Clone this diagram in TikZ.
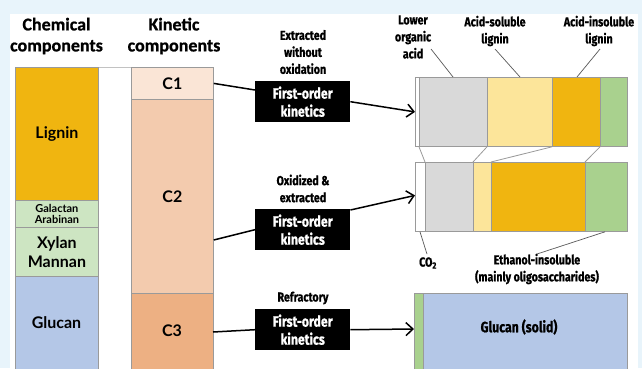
\documentclass[tikz,border=0pt]{standalone}
\usepackage{fontspec}
\setmainfont{Lato}
\newfontfamily\hdfont{Carlito}[BoldFeatures={FakeBold=0.8}]
\newfontfamily\cdfont{Fira Sans}[FakeStretch=0.82,BoldFeatures={FakeBold=0.8}]
\usetikzlibrary{arrows.meta,calc}
\definecolor{bgblue}{HTML}{E8F4FB}
\definecolor{lig}{HTML}{F0B510}
\definecolor{lgreen}{HTML}{CDE5C2}
\definecolor{glu}{HTML}{B4C7E7}
\definecolor{cone}{HTML}{FAE5D6}
\definecolor{ctwo}{HTML}{F3CBAE}
\definecolor{cthree}{HTML}{EDB083}
\definecolor{sgray}{HTML}{D9D9D9}
\definecolor{syel}{HTML}{FCE59A}
\definecolor{sgreen}{HTML}{A9D18E}
\definecolor{edge}{HTML}{9A9A9A}
\tikzset{
  blk/.style={draw=edge,line width=0.8pt,inner sep=0pt,anchor=north west,font=\bfseries},
  seg/.style={draw=edge,line width=0.8pt,inner sep=0pt,anchor=north west,minimum height=69pt},
  hdr/.style={font=\hdfont\bfseries\fontsize{18}{21}\selectfont,align=center},
  lbl/.style={font=\cdfont\bfseries\fontsize{13}{17}\selectfont,align=center,inner sep=0pt},
  kin/.style={fill=black,text=white,font=\cdfont\bfseries\fontsize{15}{18}\selectfont,align=center,minimum width=95pt,minimum height=41pt,inner sep=0pt,anchor=north west},
  conn/.style={line width=1.5pt},
  arr/.style={line width=1.5pt,-{Straight Barb[length=7pt,width=13pt,line width=1.5pt]}},
  lead/.style={draw=black!65,line width=0.7pt},
  link/.style={draw=edge,line width=0.8pt}
}
\begin{document}
\begin{tikzpicture}[x=1pt,y=-1pt]
\useasboundingbox (0,0) rectangle (642,368);
\fill[bgblue] (0,0) rectangle (642,368);
\fill[white] (10,14) rectangle (638,372);
% headers
\node[hdr] (h1) at (56.5,36) {Chemical\\components};
\node[hdr] (h2) at (174,36) {Kinetic\\components};
% chemical column
\node[blk,fill=lig,minimum width=83pt,minimum height=133pt,font=\bfseries\fontsize{16}{19}\selectfont] (lignin) at (15,67) {Lignin};
\node[blk,fill=lgreen,minimum width=83pt,minimum height=27pt,font=\bfseries\fontsize{11}{11.5}\selectfont,align=center] (gal) at (15,200) {Galactan\\Arabinan};
\node[blk,fill=lgreen,minimum width=83pt,minimum height=49pt,font=\bfseries\fontsize{16}{19}\selectfont,align=center] (xyl) at (15,227) {Xylan\\Mannan};
\node[blk,fill=glu,minimum width=83pt,minimum height=96pt,font=\bfseries\fontsize{16}{19}\selectfont] (glu) at (15,276) {};
\node[font=\bfseries\fontsize{16}{19}\selectfont] (glut) at (56.5,323) {Glucan};
% kinetic column
\node[blk,fill=cone,minimum width=82pt,minimum height=32pt,font=\bfseries\fontsize{16}{19}\selectfont] (c1) at (131,67) {C1};
\node[blk,fill=ctwo,minimum width=82pt,minimum height=194pt,font=\bfseries\fontsize{16}{19}\selectfont] (c2) at (131,99) {C2};
\node[blk,fill=cthree,minimum width=82pt,minimum height=79pt] (c3) at (131,293) {};
\node[font=\bfseries\fontsize{16}{19}\selectfont] (c3t) at (172,331) {C3};
\draw[draw=edge!60,line width=0.8pt] (lignin.north east) -- (c1.north west);
% kinetics boxes
\node[kin] (k1) at (255,81) {First-order\\kinetics};
\node[kin] (k2) at (255,209) {First-order\\kinetics};
\node[kin] (k3) at (255,309) {First-order\\kinetics};
\node[lbl] (l1) at (303,52) {Extracted\\without\\oxidation};
\node[lbl] (l2) at (303,188.5) {Oxidized \&\\extracted};
\node[lbl] (l3) at (303,298) {Refractory};
% bar 1
\node[seg,fill=white,minimum width=4pt] (b1a) at (415,77) {};
\node[seg,fill=sgray,minimum width=68pt] (b1b) at (419,77) {};
\node[seg,fill=syel,minimum width=65pt] (b1c) at (487,77) {};
\node[seg,fill=lig,minimum width=48pt] (b1d) at (552,77) {};
\node[seg,fill=sgreen,minimum width=27pt] (b1e) at (600,77) {};
% bar 2
\node[seg,fill=white,minimum width=10pt] (b2a) at (415,162) {};
\node[seg,fill=sgray,minimum width=48pt] (b2b) at (425,162) {};
\node[seg,fill=syel,minimum width=18pt] (b2c) at (473,162) {};
\node[seg,fill=lig,minimum width=94pt] (b2d) at (491,162) {};
\node[seg,fill=sgreen,minimum width=42pt] (b2e) at (585,162) {};
% bar 3
\node[seg,fill=sgreen,minimum width=9pt,minimum height=79pt] (b3a) at (414,293) {};
\node[seg,fill=glu,minimum width=204pt,minimum height=79pt] (b3b) at (423,293) {};
\node[font=\cdfont\bfseries\fontsize{15}{18}\selectfont] (b3t) at (519,327) {Glucan (solid)};
% links between bars
\draw[link] (b1b.south west) -- (b2b.north west);
\draw[link] (b1c.south west) -- (b2c.north west);
\draw[link] (b1d.south west) -- (b2d.north west);
\draw[link] (b1e.south west) -- (b2e.north west);
% connectors
\draw[conn] (c1.east) -- ($(k1.north west)+(0,9)$);
\draw[arr] (k1.east) -- (b1a.west);
\draw[conn] ($(c2.north east)+(0,141)$) -- (k2.west);
\draw[arr] ($(k2.north east)+(0,1)$) -- ($(b2a.west)+(0,-1.5)$);
\draw[conn] ($(c3.north west)+(82,39)$) -- (k3.west);
\draw[arr] (k3.east) -- ($(b3a.north west)+(0,36)$);
% top labels
\node[lbl] (t1) at (413,37) {Lower\\organic\\acid};
\node[lbl] (t2) at (495,31) {Acid-soluble\\lignin};
\node[lbl] (t3) at (599,31) {Acid-insoluble\\lignin};
\coordinate (t1e) at (431,49);
\coordinate (t2e) at (495,49);
\coordinate (t3e) at (600,49);
\draw[lead] (t1e) -- ($(b1b.north west)+(34,0)$);
\draw[lead] (t2e) -- ($(b1c.north west)+(33,0)$);
\draw[lead] (t3e) -- ($(b1d.north west)+(25,0)$);
% bottom labels
\node[lbl] (co) at (428,263) {CO\textsubscript{2}};
\node[lbl] (eth) at (537,269) {Ethanol-insoluble\\(mainly oligosaccharides)};
\draw[lead] ($(b2a.south west)+(5,0)$) -- ($(co.north)+(-1,-3)$);
\coordinate (ethe) at (537,254);
\draw[lead] (ethe) -- ($(b2e.south west)+(20,0)$);
\end{tikzpicture}
\end{document}
